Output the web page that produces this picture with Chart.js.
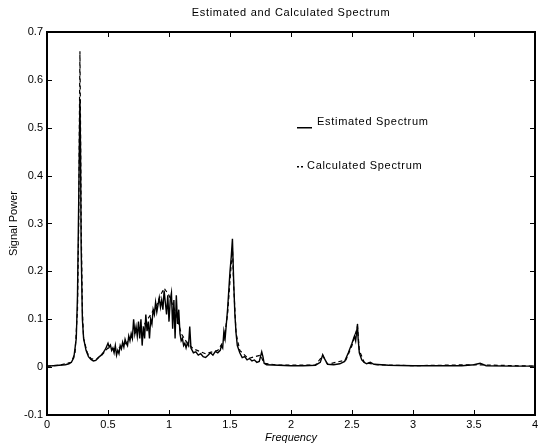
<!DOCTYPE html>
<html>
<head>
<meta charset="utf-8">
<script src="https://cdn.jsdelivr.net/npm/chart.js@4"></script>
<style>
  body { margin: 0; background: #fff; }
  canvas { display: block; }
</style>
</head>
<body>
<canvas id="chart" width="538" height="445"></canvas>
<script>
// Estimated spectrum (solid)
const estFreq = [0, 0.05, 0.1, 0.15, 0.18, 0.2, 0.22, 0.24, 0.25, 0.26, 0.27, 0.275, 0.28, 0.29, 0.3, 0.32, 0.34, 0.36, 0.38, 0.4,
  0.42, 0.44, 0.46, 0.48, 0.5, 0.51, 0.52, 0.53, 0.54, 0.55, 0.56, 0.57, 0.58, 0.59, 0.6, 0.61, 0.62, 0.63, 0.64, 0.65,
  0.66, 0.67, 0.68, 0.69, 0.7, 0.71, 0.72, 0.73, 0.74, 0.75, 0.76, 0.77, 0.78, 0.79, 0.8, 0.81, 0.82, 0.83, 0.84, 0.85,
  0.86, 0.87, 0.88, 0.89, 0.9, 0.91, 0.92, 0.93, 0.94, 0.95, 0.96, 0.97, 0.98, 0.99, 1.0, 1.01, 1.02, 1.03, 1.04, 1.05,
  1.06, 1.07, 1.08, 1.09, 1.1, 1.11, 1.12, 1.13, 1.14, 1.15, 1.16, 1.17, 1.18, 1.19, 1.2, 1.22, 1.24, 1.26, 1.28, 1.3,
  1.32, 1.34, 1.36, 1.38, 1.4, 1.42, 1.43, 1.44, 1.45, 1.46, 1.47, 1.48, 1.49, 1.5, 1.51, 1.52, 1.53, 1.54, 1.55, 1.56,
  1.58, 1.6, 1.62, 1.64, 1.66, 1.68, 1.7, 1.72, 1.74, 1.76, 1.77, 1.78, 1.8, 1.9, 2.0, 2.1, 2.2, 2.24, 2.26, 2.28,
  2.3, 2.35, 2.4, 2.44, 2.47, 2.5, 2.52, 2.53, 2.545, 2.55, 2.56, 2.58, 2.6, 2.62, 2.65, 2.68, 2.8, 3.0, 3.2, 3.4,
  3.5, 3.55, 3.6, 3.8, 4.0];
const estPower = [0.002, 0.003, 0.004, 0.005, 0.007, 0.01, 0.02, 0.06, 0.15, 0.35, 0.56, 0.45, 0.25, 0.1, 0.06, 0.035, 0.022, 0.016, 0.013, 0.014,
  0.02, 0.024, 0.03, 0.038, 0.05, 0.042, 0.046, 0.035, 0.04, 0.03, 0.045, 0.025, 0.035, 0.028, 0.045, 0.038, 0.052, 0.042, 0.058, 0.05,
  0.045, 0.065, 0.055, 0.07, 0.06, 0.1, 0.07, 0.085, 0.065, 0.095, 0.06, 0.1, 0.045, 0.085, 0.06, 0.11, 0.075, 0.095, 0.06, 0.1,
  0.09, 0.12, 0.11, 0.135, 0.115, 0.13, 0.145, 0.125, 0.14, 0.12, 0.16, 0.135, 0.11, 0.15, 0.095, 0.14, 0.155, 0.08, 0.14, 0.06,
  0.15, 0.09, 0.12, 0.07, 0.055, 0.06, 0.045, 0.05, 0.04, 0.05, 0.045, 0.085, 0.04, 0.035, 0.03, 0.032, 0.025, 0.028, 0.022, 0.02,
  0.025, 0.03, 0.025, 0.033, 0.03, 0.035, 0.045, 0.04, 0.075, 0.06, 0.09, 0.12, 0.16, 0.2, 0.23, 0.268, 0.18, 0.11, 0.07, 0.045,
  0.03, 0.02, 0.022, 0.015, 0.018, 0.013, 0.015, 0.01, 0.012, 0.032, 0.022, 0.008, 0.005, 0.004, 0.003, 0.003, 0.004, 0.01, 0.026, 0.015,
  0.006, 0.005, 0.007, 0.012, 0.03, 0.05, 0.065, 0.055, 0.09, 0.06, 0.03, 0.015, 0.01, 0.007, 0.01, 0.006, 0.004, 0.003, 0.003, 0.003,
  0.005, 0.008, 0.003, 0.002, 0.002];

// Calculated spectrum (dashed)
const calcFreq = [0, 0.1, 0.2, 0.23, 0.25, 0.26, 0.265, 0.27, 0.275, 0.28, 0.29, 0.3, 0.33, 0.36, 0.4, 0.45, 0.5, 0.55, 0.6, 0.65, 0.7,
  0.75, 0.8, 0.85, 0.9, 0.93, 0.96, 1.0, 1.03, 1.06, 1.1, 1.15, 1.2, 1.3, 1.4, 1.45, 1.48, 1.5, 1.52, 1.53, 1.55,
  1.58, 1.65, 1.75, 1.78, 1.9, 2.2, 2.26, 2.3, 2.45, 2.5, 2.545, 2.56, 2.6, 2.7, 3.0, 3.5, 4.0];
const calcPower = [0.002, 0.004, 0.01, 0.03, 0.12, 0.3, 0.5, 0.66, 0.5, 0.3, 0.12, 0.06, 0.03, 0.018, 0.015, 0.025, 0.04, 0.038, 0.042, 0.05, 0.065,
  0.08, 0.09, 0.11, 0.13, 0.15, 0.165, 0.15, 0.13, 0.11, 0.07, 0.05, 0.038, 0.028, 0.035, 0.055, 0.11, 0.18, 0.25, 0.17, 0.07,
  0.035, 0.018, 0.025, 0.008, 0.004, 0.004, 0.024, 0.006, 0.015, 0.045, 0.085, 0.035, 0.01, 0.005, 0.003, 0.005, 0.002];

const xTicks = [0, 0.5, 1, 1.5, 2, 2.5, 3, 3.5, 4];
const yTicks = [-0.1, 0, 0.1, 0.2, 0.3, 0.4, 0.5, 0.6, 0.7];
const titleText = "Estimated and Calculated Spectrum";
const legendLabels = ["Estimated Spectrum", "Calculated Spectrum"];

const FONT = "'Liberation Sans', Arial, sans-serif";
const INK = "#000";

function toPoints(xs, ys) {
  return xs.map((x, i) => ({ x: x, y: ys[i] }));
}

// inward ticks, title and in-plot legend
const framePlugin = {
  id: "frame",
  afterDraw(chart) {
    const ctx = chart.ctx;
    const a = chart.chartArea;
    const sx = chart.scales.x, sy = chart.scales.y;
    const L = Math.round(a.left), R = Math.round(a.right);
    const T = Math.round(a.top), B = Math.round(a.bottom);
    ctx.save();
    ctx.fillStyle = INK;
    xTicks.forEach(v => {
      const px = Math.round(sx.getPixelForValue(v));
      ctx.fillRect(px, B - 5, 1, 5);
      ctx.fillRect(px, T, 1, 5);
    });
    yTicks.forEach(v => {
      const py = Math.round(sy.getPixelForValue(v));
      ctx.fillRect(L, py, 5, 1);
      ctx.fillRect(R - 5, py, 5, 1);
    });

    ctx.textBaseline = "middle";
    ctx.letterSpacing = "0.7px";
    ctx.font = "11px " + FONT;
    ctx.textAlign = "center";
    ctx.fillText(titleText, (L + R) / 2, 13);

    ctx.textAlign = "left";
    const lx = L + 250, ly1 = T + 90, ly2 = T + 134;
    ctx.fillRect(lx, ly1 + 5, 15, 1.5);
    ctx.fillText(legendLabels[0], lx + 20, ly1);
    ctx.fillRect(lx, ly2, 2, 1.5);
    ctx.fillRect(lx + 4, ly2, 2, 1.5);
    ctx.fillText(legendLabels[1], lx + 10, ly2);
    ctx.restore();
  }
};

const edge = { display: true, color: INK, width: 2 };

new Chart(document.getElementById("chart"), {
  type: "line",
  data: {
    datasets: [
      {
        label: legendLabels[0],
        data: toPoints(estFreq, estPower),
        borderColor: INK,
        borderWidth: 1.4,
        pointRadius: 0,
        tension: 0
      },
      {
        label: legendLabels[1],
        data: toPoints(calcFreq, calcPower),
        borderColor: INK,
        borderWidth: 1.2,
        borderDash: [4, 3],
        pointRadius: 0,
        tension: 0
      }
    ]
  },
  options: {
    responsive: false,
    animation: false,
    layout: { padding: { top: 32, right: 3, left: 0, bottom: 0 } },
    plugins: {
      legend: { display: false },
      tooltip: { enabled: false },
      title: { display: false }
    },
    scales: {
      x: {
        type: "linear",
        min: 0,
        max: 4,
        afterBuildTicks: s => { s.ticks = xTicks.map(v => ({ value: v })); },
        afterFit: s => { s.height = 30; s.paddingLeft = 0; s.paddingRight = 0; },
        grid: { display: false, drawTicks: false },
        border: edge,
        ticks: {
          color: INK,
          font: { family: FONT, size: 11 },
          padding: 3,
          maxRotation: 0,
          callback: v => String(v)
        },
        title: {
          display: true,
          text: "Frequency",
          color: INK,
          font: { family: FONT, size: 11, style: "italic" },
          padding: { top: 0, bottom: 0 }
        }
      },
      xTop: {
        type: "linear",
        position: "top",
        min: 0,
        max: 4,
        afterFit: s => { s.height = 0; s.paddingLeft = 0; s.paddingRight = 0; },
        grid: { display: false, drawTicks: false },
        border: edge,
        ticks: { display: false }
      },
      y: {
        min: -0.1,
        max: 0.7,
        afterBuildTicks: s => { s.ticks = yTicks.map(v => ({ value: v })); },
        afterFit: s => { s.width = 47; },
        grid: { display: false, drawTicks: false },
        border: edge,
        ticks: {
          color: INK,
          font: { family: FONT, size: 11 },
          padding: 4,
          callback: v => String(v)
        },
        title: {
          display: true,
          text: "Signal Power",
          color: INK,
          font: { family: FONT, size: 11 },
          padding: { top: 7, bottom: 0 }
        }
      },
      yRight: {
        position: "right",
        min: -0.1,
        max: 0.7,
        afterFit: s => { s.width = 0; },
        grid: { display: false, drawTicks: false },
        border: edge,
        ticks: { display: false }
      }
    }
  },
  plugins: [framePlugin]
});
</script>
</body>
</html>
